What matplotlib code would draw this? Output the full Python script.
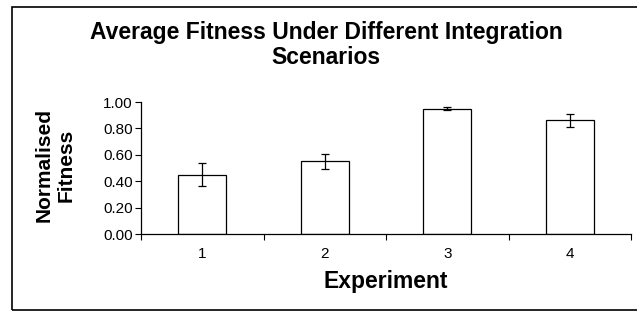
import matplotlib
matplotlib.use("Agg")
import matplotlib.pyplot as plt
from matplotlib.patches import Rectangle

# data
experiments = ["1", "2", "3", "4"]
fitness = [0.45, 0.55, 0.95, 0.86]
errors = [0.09, 0.055, 0.01, 0.047]
yticks = [0.0, 0.2, 0.4, 0.6, 0.8, 1.0]

plt.rcParams["font.family"] = ["Liberation Sans", "DejaVu Sans"]

fig = plt.figure(figsize=(6.37, 3.11), dpi=100)
ax = fig.add_axes([141 / 637, 1 - 234 / 311, 490 / 637, 132 / 311])

x = list(range(len(experiments)))
ax.bar(x, fitness, width=0.39, color="white", edgecolor="black", linewidth=0.9,
       yerr=errors, capsize=3, error_kw={"elinewidth": 0.9, "capthick": 0.9, "ecolor": "black"})

ax.set_xlim(-0.5, len(experiments) - 0.5)
ax.set_ylim(0, 1.0)
ax.set_yticks(yticks)
ax.set_yticklabels([f"{v:.2f}" for v in yticks], fontsize=11)

# ticks sit between categories, labels centred under bars
ax.set_xticks([i - 0.5 for i in range(len(experiments) + 1)])
ax.set_xticklabels([])
ax.set_xticks(x, minor=True)
ax.set_xticklabels(experiments, minor=True, fontsize=11)
ax.tick_params(axis="x", which="minor", length=0, pad=9)
ax.tick_params(axis="x", which="major", direction="out", length=4, width=0.8)
ax.tick_params(axis="y", direction="out", length=4, width=0.8, pad=2)

for s in ["top", "right"]:
    ax.spines[s].set_visible(False)
for s in ["left", "bottom"]:
    ax.spines[s].set_linewidth(0.9)

ax.set_xlabel("Experiment", fontsize=16.5, fontweight="bold", labelpad=7)
fig.text(55 / 637, 1 - 165 / 311, "Normalised\nFitness", rotation=90, fontsize=15,
         fontweight="bold", ha="center", va="center", linespacing=1.2)

fig.text(326 / 637, 1 - 45 / 311, "Average Fitness Under Different Integration\nScenarios",
         ha="center", va="center", fontsize=16.5, fontweight="bold", linespacing=1.15)

# outer chart border (right side runs off the image)
fig.patches.append(Rectangle((12 / 637, 1 / 311), 640 / 637, 303 / 311,
                             transform=fig.transFigure, fill=False,
                             edgecolor="black", linewidth=1.2))

fig.savefig("out.png", dpi=100)
